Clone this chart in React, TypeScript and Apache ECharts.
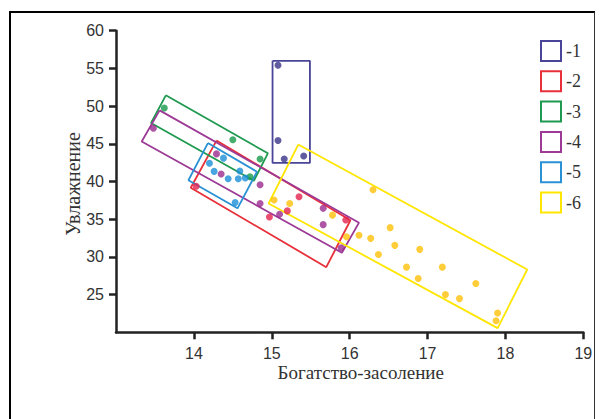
import React, { useEffect, useRef } from "react";
import * as echarts from "echarts";

const groupNames = ["1", "2", "3", "4", "5", "6"];
const lineColors = ["#4a4598", "#e8303a", "#1f9a50", "#9c3a96", "#2a92d4", "#ffe600"];
const dotColors = ["#3a3388", "#e3204c", "#169a4a", "#9a2a8e", "#1a8fd8", "#ffc107"];

const xTicks = [14, 15, 16, 17, 18, 19];
const yTicks = [25, 30, 35, 40, 45, 50, 55, 60];

// group outlines (corners in data units)
const rect1 = [[15.01, 56.0], [15.49, 56.0], [15.49, 42.46], [15.01, 42.46]];
const rect2 = [[14.29, 45.43], [16.01, 34.86], [15.70, 28.64], [13.96, 39.17]];
const rect3 = [[13.64, 51.43], [14.95, 43.74], [14.77, 40.1], [13.45, 47.76]];
const rect4 = [[13.56, 49.43], [16.12, 34.54], [15.9, 30.55], [13.33, 45.3]];
const rect5 = [[14.18, 45.1], [14.81, 41.3], [14.56, 36.44], [13.93, 40.17]];
const rect6 = [[15.34, 44.9], [18.28, 28.33], [17.9, 20.55], [14.96, 37.08]];

// samples
const pts1 = [[15.08, 55.43], [15.08, 45.43], [15.16, 42.99], [15.41, 43.39]];
const pts2 = [[14.03, 39.37], [14.97, 35.3], [15.2, 36.1], [15.35, 37.97], [15.95, 34.9]];
const pts3 = [[13.62, 49.74], [14.5, 45.53], [14.85, 42.99], [14.72, 40.63]];
const pts4 = [
  [13.48, 47.07], [14.29, 43.66], [14.35, 40.99], [14.85, 39.57], [14.85, 37.08],
  [15.1, 35.66], [15.66, 36.44], [15.66, 34.28], [15.89, 31.21],
];
const pts5 = [
  [14.38, 43.1], [14.2, 42.41], [14.26, 41.34], [14.44, 40.37], [14.57, 40.37],
  [14.66, 40.46], [14.59, 41.39], [14.53, 37.21],
];
const pts6 = [
  [15.03, 37.54], [15.23, 37.08], [15.78, 35.54], [16.3, 38.9], [15.96, 32.66],
  [16.12, 32.88], [16.27, 32.46], [16.52, 33.88], [16.37, 30.33], [16.58, 31.53],
  [16.9, 31.0], [16.73, 28.64], [17.19, 28.64], [16.88, 27.13], [17.23, 25.0],
  [17.41, 24.47], [17.62, 26.47], [17.9, 22.55], [17.88, 21.53],
];

const rects = [rect1, rect2, rect3, rect4, rect5, rect6];
const points = [pts1, pts2, pts3, pts4, pts5, pts6];

export default function App() {
  const ref = useRef<HTMLDivElement>(null);
  useEffect(() => {
    if (!ref.current) return;
    const chart = echarts.init(ref.current, null, { renderer: "svg" });
    const series: any[] = [];
    rects.forEach((r, i) => {
      series.push({
        name: groupNames[i],
        type: "line",
        data: [...r, r[0]],
        symbol: "none",
        lineStyle: { color: lineColors[i], width: 1.8 },
        itemStyle: { color: lineColors[i] },
        silent: true,
        z: 2,
      });
    });
    points.forEach((p, i) => {
      series.push({
        name: groupNames[i],
        type: "scatter",
        data: p,
        symbolSize: 7,
        itemStyle: { color: dotColors[i] },
        z: 3,
      });
    });
    const axisCol = "#222";
    chart.setOption({
      animation: false,
      grid: { left: 116, right: 20.7, top: 30.7, bottom: 86.7 },
      xAxis: {
        type: "value",
        min: 13,
        max: 19,
        interval: 1,
        splitLine: { show: false },
        axisLine: { show: true, onZero: false, lineStyle: { color: axisCol, width: 2.5 } },
        axisTick: { show: true, length: 7, customValues: xTicks, lineStyle: { color: axisCol, width: 2.5 } },
        axisLabel: {
          customValues: xTicks,
          margin: 14,
          color: "#333",
          fontSize: 16,
          lineHeight: 15,
          fontFamily: "Liberation Sans",
        },
      },
      yAxis: {
        type: "value",
        min: 20,
        max: 60,
        interval: 5,
        splitLine: { show: false },
        axisLine: { show: true, onZero: false, lineStyle: { color: axisCol, width: 2.5 } },
        axisTick: { show: true, length: 7, customValues: yTicks, lineStyle: { color: axisCol, width: 2.5 } },
        axisLabel: {
          customValues: yTicks,
          margin: 12,
          color: "#333",
          fontSize: 16,
          fontFamily: "Liberation Sans",
        },
      },
      legend: {
        orient: "vertical",
        left: 535,
        top: 35,
        itemWidth: 20,
        itemHeight: 20,
        itemGap: 8.3,
        formatter: "-{name}",
        textStyle: { fontFamily: "Liberation Serif", fontSize: 18, color: "#333" },
        data: groupNames.map((n, i) => ({
          name: n,
          icon: "rect",
          itemStyle: { color: "#fff", borderColor: lineColors[i], borderWidth: 2 },
        })),
        selectedMode: false,
      },
      graphic: [
        {
          type: "text",
          x: 360.7,
          y: 363,
          style: {
            text: "Богатство-засоление",
            font: '19px "Liberation Serif"',
            fill: "#333",
            align: "center",
            verticalAlign: "top",
          },
        },
        {
          type: "text",
          x: 73,
          y: 184,
          rotation: Math.PI / 2,
          style: {
            text: "Увлажнение",
            font: '20px "Liberation Serif"',
            fill: "#333",
            align: "center",
            verticalAlign: "middle",
          },
        },
      ],
      series,
    });
    return () => chart.dispose();
  }, []);
  return (
    <div style={{ position: "absolute", left: 0, top: 0, width: 604, height: 419, overflow: "hidden", background: "#fff" }}>
      <div
        style={{
          position: "absolute",
          left: 9,
          top: 11,
          width: 586,
          height: 440,
          borderLeft: "2px solid #000",
          borderTop: "2px solid #000",
          borderRight: "1px solid #333",
          boxSizing: "border-box",
        }}
      />
      <div ref={ref} style={{ position: "absolute", left: 0, top: 0, width: 604, height: 419 }} />
    </div>
  );
}
